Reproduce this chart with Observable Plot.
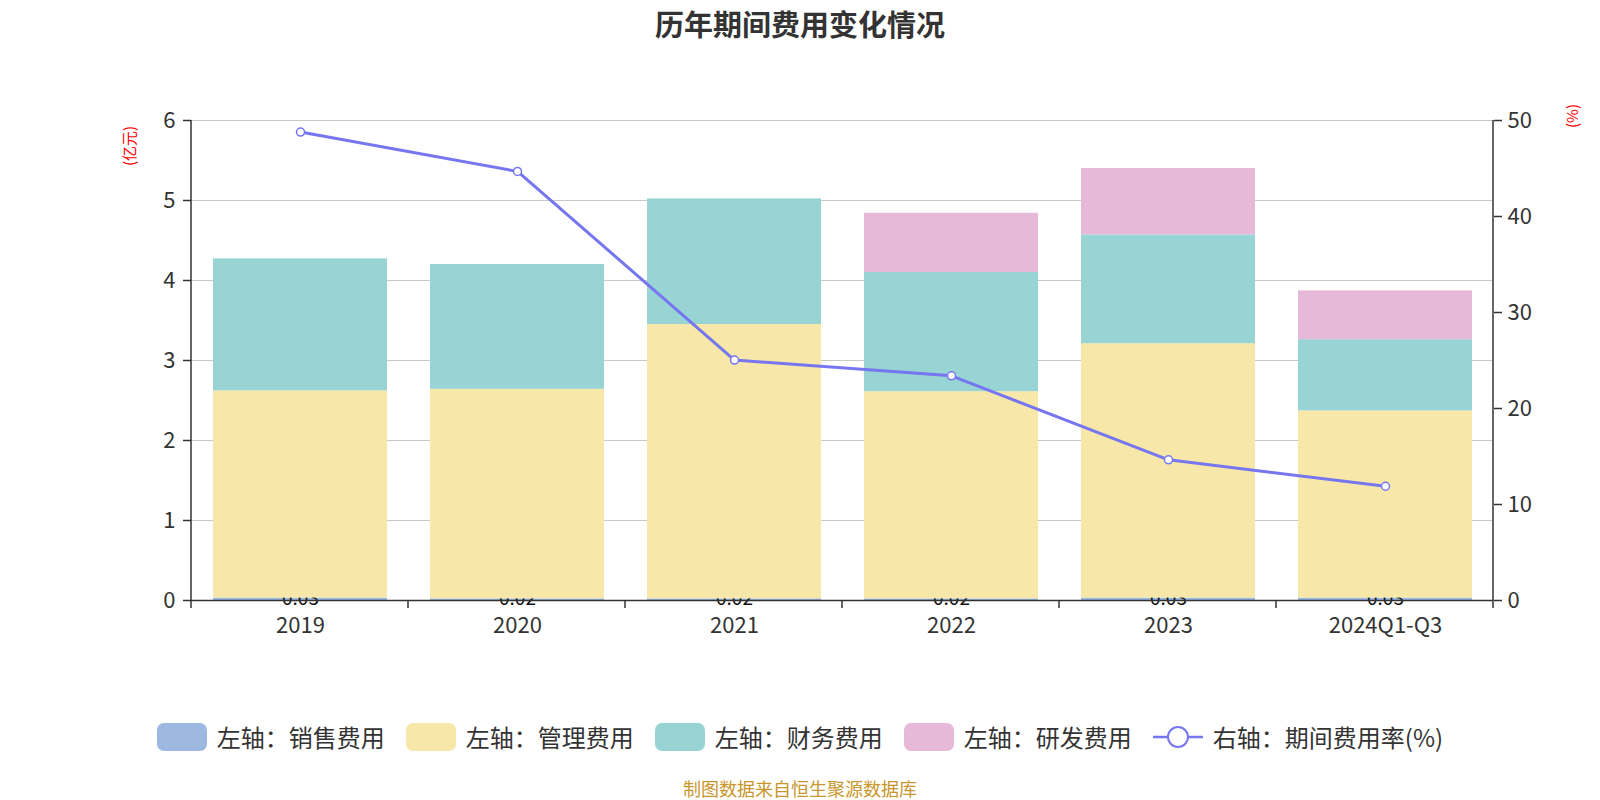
<!DOCTYPE html>
<html><head><meta charset="utf-8">
<script src="https://cdn.jsdelivr.net/npm/d3@7"></script>
<script src="https://cdn.jsdelivr.net/npm/@observablehq/plot@0.6"></script>
<style>
body{margin:0;background:#fff;font-family:"Noto Sans CJK SC","Noto Sans",sans-serif;}
#wrap{position:relative;width:1600px;height:800px;overflow:hidden;background:#fff;}
#title{position:absolute;top:0;left:0;width:1600px;text-align:center;font-size:29px;font-weight:bold;color:#333;line-height:46px;}
#chart{position:absolute;top:50px;left:0;}
.ylab{position:absolute;color:#f00;font-size:15px;white-space:nowrap;transform:translate(-50%,-50%) rotate(-90deg);}
#legend{position:absolute;top:719px;left:0;width:1600px;display:flex;justify-content:center;align-items:center;gap:21px;font-size:24px;color:#333;}
.item{display:flex;align-items:center;}
.sw{width:50px;height:28px;border-radius:7px;margin-right:10px;}
#footer{position:absolute;top:778px;left:0;width:1600px;text-align:center;font-size:18px;line-height:20px;color:#c8962c;}
</style></head>
<body><div id="wrap">
<div id="title">历年期间费用变化情况</div>
<div id="chart"></div>
<div class="ylab" style="left:128px;top:146px">(亿元)</div>
<div class="ylab" style="left:1571px;top:116px">(%)</div>
<div id="legend"></div>
<div id="footer">制图数据来自恒生聚源数据库</div>
</div>
<script>
const categories = ["2019","2020","2021","2022","2023","2024Q1-Q3"];
const salesExp = [0.03,0.02,0.02,0.02,0.03,0.03];
const adminExp = [2.59,2.62,3.43,2.59,3.18,2.34];
const financeExp = [1.65,1.56,1.57,1.49,1.36,0.89];
const rdExp = [0,0,0,0.74,0.83,0.61];
const rateExp = [48.8,44.7,25.05,23.4,14.65,11.9];
const seriesNames = ["左轴：销售费用","左轴：管理费用","左轴：财务费用","左轴：研发费用"];
const lineName = "右轴：期间费用率(%)";
const seriesColors = ["#9db9e2","#f7e8a9","#99d4d5","#e7b9d9"];
const lineColor = "#7676f0";
const leftTicks = [0,1,2,3,4,5,6];
const rightTicks = [0,10,20,30,40,50];
const leftMax = 6, rightMax = 50;

const seriesValues = [salesExp, adminExp, financeExp, rdExp];
const rows = [];
seriesValues.forEach((arr, s) => arr.forEach((v, i) => rows.push({cat: categories[i], series: seriesNames[s], value: v})));
const salesRows = rows.filter(d => d.series === seriesNames[0]);
const rateRows = categories.map((c, i) => ({cat: c, rate: rateExp[i]}));
const toLeft = v => v * leftMax / rightMax;

const W = 1600, H = 600, mL = 191, mR = 107, mT = 70, mB = 50;

const axisDecor = (index, scales, values, dims) => {
  const g = d3.create("svg:g").attr("stroke", "#333").attr("stroke-width", 1.5);
  const x0 = dims.marginLeft, x1 = dims.width - dims.marginRight;
  const yt = dims.marginTop, yb = dims.height - dims.marginBottom;
  g.append("line").attr("x1", x0).attr("x2", x0).attr("y1", yt).attr("y2", yb);
  g.append("line").attr("x1", x1).attr("x2", x1).attr("y1", yt).attr("y2", yb);
  for (let i = 0; i <= categories.length; i++) {
    const x = x0 + i * (x1 - x0) / categories.length;
    g.append("line").attr("x1", x).attr("x2", x).attr("y1", yb).attr("y2", yb + 8);
  }
  return g.node();
};

const plot = Plot.plot({
  width: W, height: H,
  marginLeft: mL, marginRight: mR, marginTop: mT, marginBottom: mB,
  style: {fontFamily: '"Noto Sans CJK SC","Noto Sans",sans-serif', background: "transparent"},
  x: {domain: categories, paddingInner: 0.2, paddingOuter: 0.1, label: null},
  y: {domain: [0, leftMax], label: null},
  color: {domain: seriesNames, range: seriesColors},
  marks: [
    Plot.gridY(leftTicks.slice(1), {stroke: "#c8c8c8", strokeOpacity: 1, strokeWidth: 1.2}),
    Plot.barY(salesRows, {x: "cat", y: "value", fill: "series"}),
    Plot.text(salesRows, {x: "cat", y: 0, text: d => d.value.toFixed(2), fontSize: 19, fill: "#111", dy: -2, lineAnchor: "middle"}),
    Plot.barY(rows, Plot.stackY({x: "cat", y: "value", fill: "series", fillOpacity: d => d.series === seriesNames[0] ? 0 : 1})),
    Plot.ruleY([0], {stroke: "#333", strokeWidth: 1.5}),
    axisDecor,
    Plot.axisY(leftTicks, {anchor: "left", label: null, tickSize: 8, tickPadding: 8, fontSize: 22, color: "#333", strokeWidth: 1.5, tickFormat: d => String(d)}),
    Plot.axisY(rightTicks.map(toLeft), {anchor: "right", label: null, tickSize: 8, tickPadding: 6, fontSize: 22, color: "#333", strokeWidth: 1.5, tickFormat: v => String(Math.round(v * rightMax / leftMax))}),
    Plot.axisX({label: null, tickSize: 0, tickPadding: 17, fontSize: 22, color: "#333"}),
    Plot.line(rateRows, {x: "cat", y: d => toLeft(d.rate), stroke: lineColor, strokeWidth: 3}),
    Plot.dot(rateRows, {x: "cat", y: d => toLeft(d.rate), r: 4, fill: "#fff", stroke: lineColor, strokeWidth: 1.5})
  ]
});
document.getElementById("chart").appendChild(plot);

const legend = document.getElementById("legend");
seriesNames.forEach((n, i) => {
  const it = document.createElement("div"); it.className = "item";
  it.innerHTML = `<div class="sw" style="background:${seriesColors[i]}"></div><span>${n}</span>`;
  legend.appendChild(it);
});
const li = document.createElement("div"); li.className = "item";
li.innerHTML = `<svg width="50" height="28" style="margin-right:10px"><line x1="0" x2="50" y1="14" y2="14" stroke="${lineColor}" stroke-width="2.5"/><circle cx="25" cy="14" r="10" fill="#fff" stroke="${lineColor}" stroke-width="2"/></svg><span>${lineName}</span>`;
legend.appendChild(li);
</script>
</body></html>
